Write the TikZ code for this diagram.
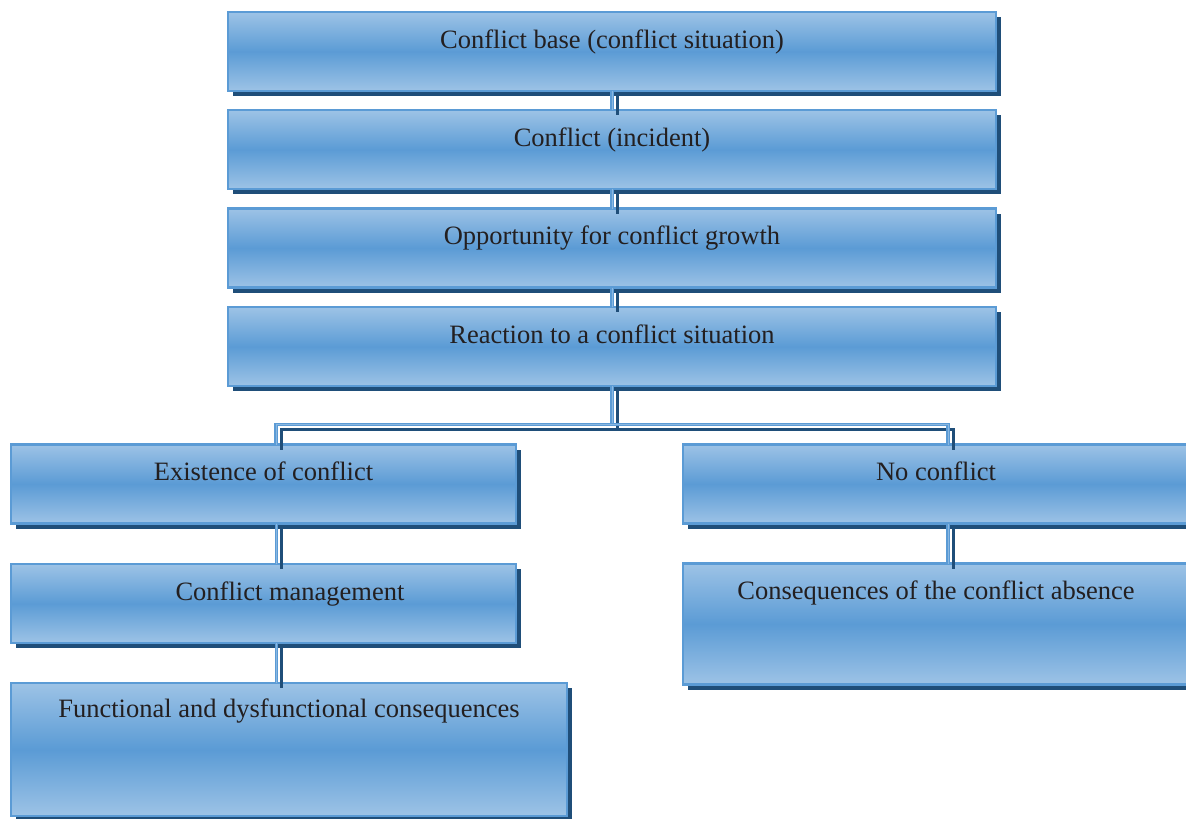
\documentclass[tikz,border=0pt]{standalone}
\usepackage{fontspec}
\setmainfont{Liberation Serif}
\usetikzlibrary{calc,backgrounds}
\definecolor{boxedge}{HTML}{5B9BD5}
\definecolor{boxlight}{HTML}{9DC3E6}
\definecolor{boxmid}{HTML}{5B9BD5}
\definecolor{shadowc}{HTML}{1F4E79}
\definecolor{txtc}{HTML}{231F20}
\newcommand\allconns{%
  \draw[conn] (b1.south) -- (b2.north);
  \draw[conn] (b2.south) -- (b3.north);
  \draw[conn] (b3.south) -- (b4.north);
  \draw[conn] (b4.south) -- (j);
  \draw[conn] (j) -| ($(b5.north)+(12.5,0)$);
  \draw[conn] (j) -| ($(b6.north)+(12,0)$);
  \draw[conn] ($(b5.south)+(13,0)$) -- ($(b7.north)+(13,0)$);
  \draw[conn] ($(b7.south)+(13,0)$) -- ($(b9.north)+(-12.5,0)$);
  \draw[conn] ($(b6.south)+(12,0)$) -- ($(b8.north)+(12,0)$);
}
\begin{document}
\begin{tikzpicture}[x=1pt,y=-1pt,
  box/.style={draw=boxedge, line width=2.5pt, top color=boxlight, bottom color=boxlight, middle color=boxmid, inner sep=0pt, outer sep=0pt},
  lbl/.style={anchor=base, text=txtc, inner sep=0pt, font=\fontsize{26.5pt}{30pt}\selectfont},
  darkline/.style={draw=shadowc, line width=3pt, transform canvas={xshift=5pt,yshift=-5pt}},
  lightline/.style={draw=boxedge, line width=1.1pt, double=boxlight!70!boxedge, double distance=0.9pt}]
\useasboundingbox (0,0) rectangle (1186,819);
\node[box, minimum width=768pt, minimum height=79pt] (b1) at (612,51.5) {};
\node[box, minimum width=768pt, minimum height=79pt] (b2) at (612,149.5) {};
\node[box, minimum width=768pt, minimum height=79pt] (b3) at (612,248) {};
\node[box, minimum width=768pt, minimum height=79pt] (b4) at (612,346.5) {};
\node[box, minimum width=505pt, minimum height=79pt] (b5) at (263.5,484) {};
\node[box, minimum width=506pt, minimum height=79pt] (b6) at (936,484) {};
\node[box, minimum width=505pt, minimum height=79pt] (b7) at (263.5,603.5) {};
\node[box, minimum width=506pt, minimum height=121pt] (b8) at (936,624) {};
\node[box, minimum width=556pt, minimum height=133pt] (b9) at (289,749.5) {};
\begin{scope}[on background layer]
  \fill[white] (0,0) rectangle (1186,819);
  \foreach \b in {b1,b2,b3,b4,b5,b6,b7,b8,b9}
    \fill[shadowc] ($(\b.south west)+(5,5)$) rectangle ($(\b.north east)+(5,5)$);
\end{scope}
\node[lbl] (t1) at ($(b1.north)+(0,36)$) {Conflict base (conflict situation)};
\node[lbl] (t2) at ($(b2.north)+(0,36)$) {Conflict (incident)};
\node[lbl] (t3) at ($(b3.north)+(0,36)$) {Opportunity for conflict growth};
\node[lbl] (t4) at ($(b4.north)+(0,36)$) {Reaction to a conflict situation};
\node[lbl] (t5) at ($(b5.north)+(0,36)$) {Existence of conflict};
\node[lbl] (t6) at ($(b6.north)+(0,36)$) {No conflict};
\node[lbl] (t7) at ($(b7.north)+(26.5,36)$) {Conflict management};
\node[lbl] (t8) at ($(b8.north)+(0,36)$) {Consequences of the conflict absence};
\node[lbl] (t9) at ($(b9.north)+(0,34)$) {Functional and dysfunctional consequences};
\coordinate (j) at ($(b4.south)+(0,38.5)$);
\begin{scope}[conn/.style={darkline}]
  \allconns
\end{scope}
\begin{scope}[conn/.style={lightline}]
  \allconns
\end{scope}
\end{tikzpicture}
\end{document}
